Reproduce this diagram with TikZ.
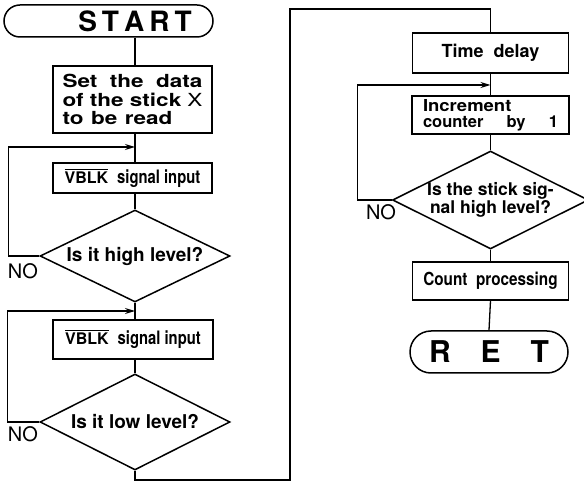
\documentclass[tikz,border=0pt]{standalone}
\usepackage{fontspec}
\setmainfont{TeX Gyre Heros}
\usepackage{graphicx}
\usetikzlibrary{shapes.geometric,arrows.meta}
\newcommand{\fsz}[2]{\fontsize{#1}{#2}\selectfont}
\newcommand{\ovl}[1]{\leavevmode\vbox{\hrule height 1.2pt\kern1.6pt\hbox{#1}}}
\newcommand{\vblk}{\fsz{16}{16}\ovl{VBLK}\ \ \scalebox{0.8}[1]{\fsz{18.5}{18.5}signal input}}
\begin{document}
\begin{tikzpicture}[x=1pt,y=-1pt,
  box/.style={draw, line width=1.5pt, inner sep=0pt, font=\bfseries},
  term/.style={draw, line width=1.5pt, inner sep=0pt, font=\bfseries},
  dec/.style={draw, diamond, aspect=2, line width=1.5pt, inner sep=0pt, font=\bfseries},
  conn/.style={line width=1.3pt},
  arr/.style={line width=1.3pt, -{Stealth[length=10pt,width=6pt]}},
  nolab/.style={font=\fsz{20}{20}, inner sep=0pt}]
\useasboundingbox (0,0) rectangle (584,486);
\coordinate (colL) at (135,0);
% left column
\node[term, rounded corners=16pt, minimum width=209pt, minimum height=32pt] (start) at (108.5,21)
  {\fsz{28}{28}\hspace*{53pt}S\kern5pt T\kern5pt A\kern5pt R\kern5pt T};
\node[box, minimum width=159pt, minimum height=67pt, font=\bfseries\fsz{18}{18.5}] (set) at (132.5,99.5)
  {\scalebox{1.25}[1]{\vbox{\hbox to 112pt{Set\hfill the\hfill data}\hbox to 112pt{of\hfill the\hfill stick\hfill{\mdseries X}}\hbox{to\hskip 6pt be\hskip 6pt read}}}};
\node[box, minimum width=159pt, minimum height=30pt] (v1) at (132.5,178) {\vblk};
\node[dec, minimum width=190pt, minimum height=92pt] (d1) at (135,256) {\fsz{19}{19}Is it high level?};
\node[box, minimum width=160pt, minimum height=39pt] (v2) at (133,339.5) {\vblk};
\node[dec, minimum width=190pt, minimum height=96pt] (d2) at (135,422) {\fsz{19}{19}Is it low level?};
\node[nolab] (no1) at (23,271) {NO};
\node[nolab] (no2) at (23,434) {NO};
% right column
\node[box, minimum width=156pt, minimum height=40pt] (td) at (490.5,53) {\fsz{18}{18}Time\ \ delay};
\node[box, minimum width=157pt, minimum height=38pt, font=\bfseries\fsz{16.5}{16}] (inc) at (490.5,115)
  {\vbox{\hbox{\scalebox{1.12}[1]{Increment}}\hbox to 135pt{counter\hfill by\hfill 1}}};
\node[dec, minimum width=188pt, minimum height=96pt, align=center, font=\bfseries\fsz{17.5}{15.5}] (d3) at (490.5,200)
  {Is the stick sig-\\nal high level?};
\node[box, minimum width=156pt, minimum height=38pt] (cp) at (490.5,281)
  {\scalebox{0.85}[1]{\fsz{18}{18}Count\ \ processing}};
\node[term, rounded corners=21pt, minimum width=158pt, minimum height=42pt] (ret) at (489,352)
  {\fsz{30}{30}R\kern30pt E\kern30pt T};
\node[nolab] (no3) at (381,212) {NO};
% connectors left
\coordinate (a1) at (135,147);
\coordinate (a2) at (135,311);
\draw[conn] (start.south -| colL) -- (set.north -| colL);
\draw[conn] (set.south -| colL) -- (v1.north -| colL);
\draw[conn] (v1.south -| colL) -- (d1.north);
\draw[conn] (d1.south) -- (v2.north -| colL);
\draw[conn] (v2.south -| colL) -- (d2.north);
\draw[arr] (d1.west) -- ++(-31,0) |- (a1);
\draw[arr] (d2.west) -- ++(-32,0) |- (a2);
% link between columns
\coordinate (b1) at (290,480);
\coordinate (b2) at (290,9);
\draw[conn] (d2.south) |- (b1) -- (b2) -| (td.north);
% connectors right
\coordinate (a3) at (490.5,85);
\draw[conn] (td.south) -- (inc.north);
\draw[arr] (d3.west) -- ++(-34,0) |- (a3);
\draw[conn] (inc.south) -- (d3.north);
\draw[conn] (d3.south) -- (cp.north);
\draw[conn] (cp.south) -- (ret.north);
\end{tikzpicture}
\end{document}
